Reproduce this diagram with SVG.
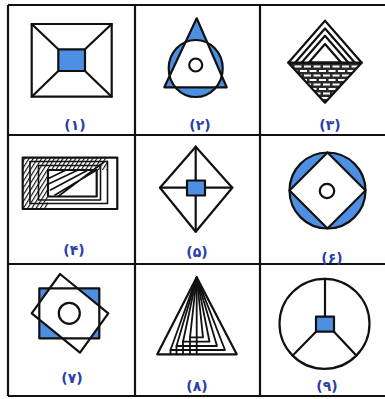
<svg xmlns="http://www.w3.org/2000/svg" width="385" height="399" viewBox="0 0 385 399">
<style>
.s{fill:none;stroke:#111;stroke-width:2.2;stroke-linejoin:round;stroke-linecap:round}
.t{fill:none;stroke:#111;stroke-width:1.6;stroke-linejoin:round;stroke-linecap:round}
.u{fill:none;stroke:#111;stroke-width:1.8;stroke-linejoin:round;stroke-linecap:round}
.b{fill:#4d90e3}
.w{fill:#fff}
.g{fill:none;stroke:#111;stroke-width:2.2}
.lbl{font-family:"DejaVu Sans",sans-serif;font-weight:bold;font-size:14px;letter-spacing:1.5px;fill:#2a3fa8;text-anchor:middle}
</style>
<defs>
<pattern id="h" width="3.6" height="10" patternUnits="userSpaceOnUse" patternTransform="rotate(32)">
<line x1="0.5" y1="0" x2="0.5" y2="10" stroke="#111" stroke-width="1.3"/>
</pattern>
<clipPath id="c3"><polygon points="288.3,62.7 361.7,62.7 325,102.7"/></clipPath>
</defs>
<rect width="385" height="399" fill="#fff"/>
<g id="grid">
<line class="g" x1="8" y1="5" x2="385" y2="5"/>
<line class="g" x1="8" y1="135" x2="385" y2="135"/>
<line class="g" x1="8" y1="264" x2="385" y2="264"/>
<line class="g" x1="8" y1="396" x2="385" y2="396"/>
<line class="g" x1="8" y1="5" x2="8" y2="396"/>
<line class="g" x1="135" y1="5" x2="135" y2="396"/>
<line class="g" x1="260" y1="5" x2="260" y2="396"/>
</g>
<g id="fig1">
<rect class="b" x="58.3" y="49.3" width="26.7" height="21.7"/>
<rect class="s" x="31.7" y="24" width="80" height="72.7"/>
<rect class="s" x="58.3" y="49.3" width="26.7" height="21.7"/>
<path class="s" d="M31.7,24L58.3,49.3M111.7,24L85,49.3M31.7,96.7L58.3,71M111.7,96.7L85,71"/>
<text class="lbl" x="75" y="130">(۱)</text>
</g>
<g id="fig2">
<path class="b" fill-rule="evenodd" d="M196.7,18.3L226.7,87.3L164.3,87.3Z M168.7,68.5a27,28.5 0 1,0 54,0a27,28.5 0 1,0 -54,0Z"/>
<path class="s" d="M196.7,18.3L226.7,87.3L164.3,87.3Z"/>
<ellipse class="s" cx="195.7" cy="68.5" rx="27" ry="28.5"/>
<circle class="s" cx="195.7" cy="65" r="6.5"/>
<text class="lbl" x="200" y="130">(۲)</text>
</g>
<g id="fig3">
<g clip-path="url(#c3)">
<rect x="285" y="62" width="80" height="42" fill="#2a2a2a"/>
<g stroke="#fff" stroke-width="1.9">
<line x1="285" y1="66.5" x2="365" y2="66.5" stroke-dasharray="7 2.5"/>
<line x1="285" y1="71" x2="365" y2="71" stroke-dasharray="7 2.5" stroke-dashoffset="4"/>
<line x1="285" y1="75.5" x2="365" y2="75.5" stroke-dasharray="7 2.5"/>
<line x1="285" y1="80" x2="365" y2="80" stroke-dasharray="7 2.5" stroke-dashoffset="4"/>
<line x1="285" y1="84.5" x2="365" y2="84.5" stroke-dasharray="7 2.5"/>
<line x1="285" y1="89" x2="365" y2="89" stroke-dasharray="7 2.5" stroke-dashoffset="4"/>
<line x1="285" y1="93.5" x2="365" y2="93.5" stroke-dasharray="7 2.5"/>
<line x1="285" y1="98" x2="365" y2="98"/>
</g>
</g>
<polygon class="s" points="325,20.7 361.7,62.7 325,102.7 288.3,62.7"/>
<line class="s" x1="288.3" y1="62.7" x2="361.7" y2="62.7"/>
<polyline class="s" points="295.1,62.7 325,28.5 354.9,62.7"/>
<polyline class="s" points="301.5,62.7 325,35.8 348.5,62.7"/>
<polygon class="s" points="308.7,62.7 325,44 341.3,62.7"/>
<text class="lbl" x="330" y="130">(۳)</text>
</g>
<g id="fig4">
<polygon fill="url(#h)" points="22.7,157.7 108,157.7 108,170 48,170 48,209 22.7,209"/>
<rect class="s" x="22.7" y="157.7" width="94.6" height="51.3"/>
<rect class="t" x="30" y="161.5" width="77.5" height="42"/>
<rect class="t" x="38.5" y="165.5" width="62" height="34.5"/>
<rect class="s" x="48" y="170" width="48.7" height="26.5"/>
<path class="t" d="M55,195L96.7,170M50.5,190L88,170M48.5,184L78,170M48.5,178.5L66,170M58,196.5L104,162"/>
<text class="lbl" x="74" y="255">(۴)</text>
</g>
<g id="fig5">
<polygon class="s" points="195.7,146.7 232.3,187.7 195.7,231.7 160,187.7"/>
<line class="s" x1="195.7" y1="146.7" x2="195.7" y2="231.7"/>
<line class="s" x1="160" y1="187.7" x2="232.3" y2="187.7"/>
<rect class="b" x="187" y="180.5" width="18" height="15"/>
<rect class="s" x="187" y="180.5" width="18" height="15"/>
<text class="lbl" x="197" y="257">(۵)</text>
</g>
<g id="fig6">
<circle class="b" cx="327.5" cy="190.5" r="38"/>
<polygon class="w" points="327.5,152.5 365.5,190.5 327.5,228.5 289.5,190.5"/>
<circle class="s" cx="327.5" cy="190.5" r="38"/>
<polygon class="s" points="327.5,152.5 365.5,190.5 327.5,228.5 289.5,190.5"/>
<circle class="s" cx="327" cy="191" r="7.2"/>
<text class="lbl" x="332" y="263">(۶)</text>
</g>
<g id="fig7">
<rect class="b" x="39.3" y="288.3" width="60" height="50"/>
<polygon class="w" points="60,274 108.3,313.3 80,352.7 31.7,313.3"/>
<rect class="s" x="39.3" y="288.3" width="60" height="50"/>
<polygon class="s" points="60,274 108.3,313.3 80,352.7 31.7,313.3"/>
<circle class="s" cx="69.3" cy="313.3" r="10.5"/>
<text class="lbl" x="72" y="383">(۷)</text>
</g>
<g id="fig8">
<polygon class="s" points="196.7,277.3 236.7,354.3 157.3,354.3"/>
<polyline class="u" points="170.5,350 196.7,277.3 225,350 170.5,350"/>
<polyline class="u" points="176.5,346 196.7,277.3 217,346 176.5,346"/>
<polyline class="u" points="183,341.7 196.7,277.3 209.5,341.7 183,341.7"/>
<polyline class="u" points="190,337.3 196.7,277.3 203,337.3 190,337.3"/>
<path class="u" d="M170.5,350V354.3M176.5,346V354.3M183,341.7V354.3M190,337.3V354.3M196.7,277.3V354.3"/>
<text class="lbl" x="197" y="391">(۸)</text>
</g>
<g id="fig9">
<circle class="s" cx="324.5" cy="323.8" r="45"/>
<line class="s" x1="325" y1="316.7" x2="325" y2="278.8"/>
<line class="s" x1="316" y1="331.7" x2="292.7" y2="355.6"/>
<line class="s" x1="334" y1="331.7" x2="356.3" y2="355.6"/>
<rect class="b" x="316" y="316.7" width="18" height="15"/>
<rect class="s" x="316" y="316.7" width="18" height="15"/>
<text class="lbl" x="327" y="391">(۹)</text>
</g>
</svg>
